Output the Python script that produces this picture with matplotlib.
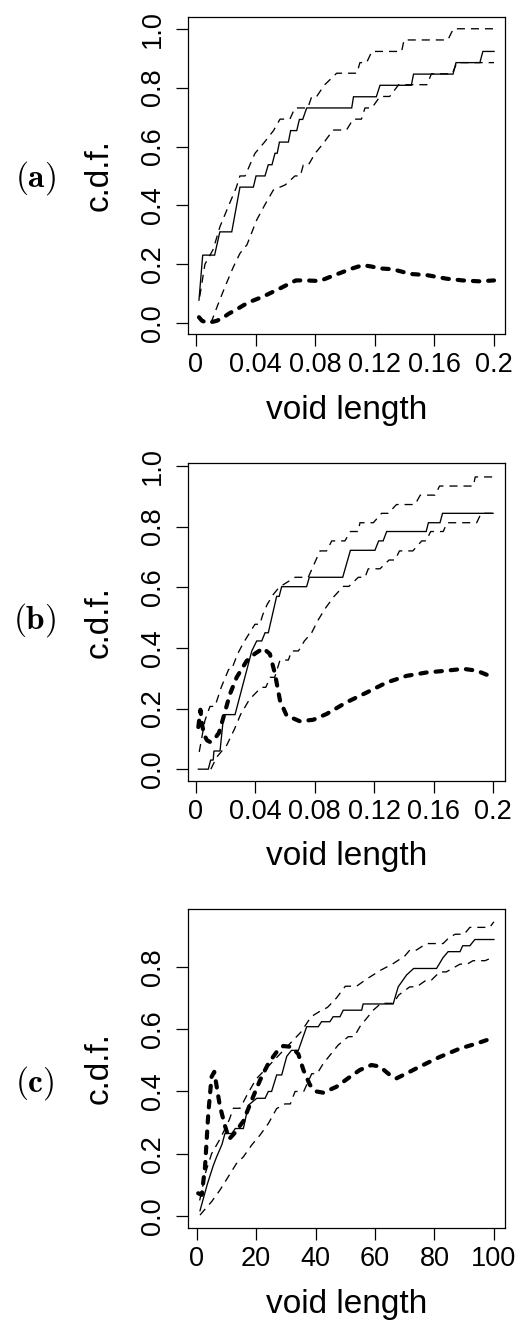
import matplotlib
matplotlib.use('Agg')
import matplotlib.pyplot as plt

plt.rcParams['font.family'] = ['Liberation Sans', 'DejaVu Sans']
plt.rcParams['mathtext.fontset'] = 'cm'
plt.rcParams['lines.scale_dashes'] = False

# ---------------- data ----------------
# panel (a)
a_obs_x = [0.002, 0.0045, 0.0125, 0.016, 0.024, 0.0295, 0.0385, 0.0403, 0.0463, 0.0485, 0.051, 0.053, 0.0545,
           0.056, 0.062, 0.0635, 0.0676, 0.0694, 0.0716, 0.0743, 0.1045, 0.1057, 0.121, 0.1235, 0.1445, 0.146,
           0.1725, 0.1745, 0.1905, 0.1925, 0.2]
a_obs_y = [0.078, 0.231, 0.231, 0.31, 0.31, 0.462, 0.462, 0.5, 0.5, 0.538, 0.538, 0.577, 0.577, 0.615, 0.615,
           0.654, 0.654, 0.692, 0.692, 0.731, 0.731, 0.769, 0.769, 0.808, 0.808, 0.846, 0.846, 0.885, 0.885,
           0.923, 0.923]
a_hi_x = [0.0025, 0.006, 0.0115, 0.0161, 0.022, 0.027, 0.0295, 0.0329, 0.0396, 0.046, 0.052, 0.0564, 0.063,
          0.0664, 0.075, 0.0777, 0.081, 0.086, 0.0944, 0.108, 0.110, 0.1145, 0.118, 0.138, 0.1396, 0.169,
          0.1727, 0.2]
a_hi_y = [0.09, 0.2, 0.25, 0.328, 0.40, 0.46, 0.5, 0.5, 0.577, 0.615, 0.654, 0.693, 0.693, 0.731, 0.731,
          0.77, 0.77, 0.808, 0.849, 0.849, 0.885, 0.885, 0.923, 0.923, 0.962, 0.962, 1.0, 1.0]
a_lo_x = [0.010, 0.0145, 0.0195, 0.025, 0.0295, 0.0342, 0.0407, 0.046, 0.0519, 0.060, 0.0664, 0.070, 0.072,
          0.0754, 0.080, 0.0855, 0.092, 0.101, 0.1055, 0.111, 0.1134, 0.118, 0.1235, 0.130, 0.136, 0.155,
          0.158, 0.172, 0.175, 0.2]
a_lo_y = [0.0, 0.06, 0.124, 0.19, 0.237, 0.266, 0.35, 0.40, 0.452, 0.47, 0.5, 0.5, 0.537, 0.537, 0.577,
          0.611, 0.656, 0.656, 0.693, 0.693, 0.731, 0.731, 0.77, 0.77, 0.81, 0.81, 0.847, 0.847, 0.885, 0.885]
a_ker_x = [0.002, 0.004, 0.007, 0.010, 0.014, 0.018, 0.022, 0.0284, 0.035, 0.045, 0.056, 0.067, 0.074, 0.083,
           0.094, 0.105, 0.112, 0.118, 0.123, 0.132, 0.144, 0.155, 0.168, 0.179, 0.19, 0.2]
a_ker_y = [0.02, 0.008, 0.002, 0.003, 0.008, 0.018, 0.032, 0.05, 0.07, 0.09, 0.117, 0.145, 0.145, 0.143,
           0.165, 0.186, 0.197, 0.192, 0.186, 0.183, 0.167, 0.163, 0.151, 0.145, 0.142, 0.145]

# panel (b)
b_obs_x = [0.0016, 0.0083, 0.0099, 0.0116, 0.0121, 0.0162, 0.0184, 0.0195, 0.0263, 0.0364, 0.0376, 0.0409,
           0.0443, 0.0465, 0.0487, 0.0543, 0.056, 0.0577, 0.0745, 0.0763, 0.0988, 0.104, 0.1205, 0.123, 0.126,
           0.1284, 0.155, 0.1565, 0.1643, 0.166, 0.2]
b_obs_y = [0.0, 0.0, 0.03, 0.03, 0.06, 0.06, 0.166, 0.18, 0.18, 0.368, 0.39, 0.423, 0.423, 0.45, 0.45, 0.57,
           0.57, 0.602, 0.602, 0.633, 0.633, 0.722, 0.722, 0.753, 0.753, 0.784, 0.784, 0.813, 0.813, 0.844, 0.844]
b_hi_x = [0.0022, 0.006, 0.0094, 0.0128, 0.017, 0.022, 0.024, 0.028, 0.032, 0.0397, 0.043, 0.045, 0.048,
          0.052, 0.056, 0.0667, 0.0756, 0.0835, 0.088, 0.0914, 0.1003, 0.104, 0.1093, 0.1104, 0.1194, 0.125,
          0.1295, 0.135, 0.1475, 0.151, 0.161, 0.164, 0.1868, 0.188, 0.2]
b_hi_y = [0.057, 0.16, 0.207, 0.207, 0.27, 0.329, 0.329, 0.38, 0.417, 0.478, 0.478, 0.51, 0.544, 0.576, 0.6,
          0.633, 0.633, 0.72, 0.72, 0.753, 0.753, 0.784, 0.784, 0.813, 0.813, 0.844, 0.844, 0.873, 0.873,
          0.904, 0.904, 0.934, 0.934, 0.964, 0.964]
b_lo_x = [0.010, 0.014, 0.0207, 0.026, 0.03, 0.036, 0.044, 0.047, 0.050, 0.053, 0.0566, 0.0622, 0.0644, 0.069,
          0.073, 0.0779, 0.082, 0.087, 0.093, 0.0992, 0.103, 0.1093, 0.1138, 0.116, 0.1239, 0.130, 0.134,
          0.137, 0.146, 0.152, 0.155, 0.158, 0.1665, 0.169, 0.189, 0.192, 0.2]
b_lo_y = [0.0, 0.04, 0.079, 0.133, 0.18, 0.23, 0.27, 0.27, 0.303, 0.303, 0.36, 0.36, 0.39, 0.39, 0.423, 0.45,
          0.49, 0.53, 0.57, 0.603, 0.603, 0.633, 0.633, 0.661, 0.661, 0.69, 0.69, 0.72, 0.72, 0.753, 0.753,
          0.784, 0.784, 0.813, 0.813, 0.844, 0.844]
b_ker_x = [0.0016, 0.003, 0.004, 0.0055, 0.0075, 0.0094, 0.0125, 0.0155, 0.019, 0.0229, 0.0274, 0.0341,
           0.0397, 0.0453, 0.0498, 0.0532, 0.0566, 0.061, 0.07, 0.079, 0.0879, 0.1015, 0.115, 0.1284, 0.142,
           0.1553, 0.1688, 0.18, 0.189, 0.2]
b_ker_y = [0.139, 0.196, 0.15, 0.113, 0.095, 0.09, 0.1, 0.12, 0.18, 0.248, 0.303, 0.357, 0.381, 0.399, 0.38,
           0.314, 0.226, 0.177, 0.158, 0.163, 0.182, 0.221, 0.253, 0.286, 0.308, 0.319, 0.325, 0.331, 0.325,
           0.303]

# panel (c)
c_obs_x = [1.1, 3.5, 5.5, 6.7, 8.5, 9.5, 11.8, 13, 14, 15.7, 17.4, 20.2, 23, 24.1, 25.2, 26.9, 28.6, 30.3,
           31.9, 33.1, 34.2, 37, 40.9, 42, 44.8, 45.9, 48.2, 49.3, 55.5, 56, 66.1, 67.8, 70.6, 73, 75.1, 80.7,
           82.9, 84.6, 88.6, 89.5, 91.9, 93.6, 100]
c_obs_y = [0.017, 0.1, 0.16, 0.19, 0.23, 0.265, 0.265, 0.281, 0.281, 0.281, 0.356, 0.378, 0.378, 0.4, 0.4,
           0.453, 0.453, 0.513, 0.532, 0.532, 0.532, 0.608, 0.608, 0.624, 0.624, 0.64, 0.64, 0.661, 0.661,
           0.681, 0.681, 0.736, 0.774, 0.795, 0.795, 0.795, 0.83, 0.849, 0.849, 0.868, 0.868, 0.888, 0.888]
c_hi_x = [1, 3, 5, 8, 11, 12.3, 14.6, 17, 20, 23, 26, 29, 32, 35, 38.5, 41, 44, 47, 50, 53.8, 57, 62, 66, 70,
          71.7, 73.9, 77.3, 82.9, 85, 87, 90, 91.9, 98.6, 100]
c_hi_y = [0.05, 0.14, 0.2, 0.25, 0.31, 0.346, 0.346, 0.39, 0.44, 0.47, 0.5, 0.53, 0.56, 0.59, 0.64, 0.655,
          0.67, 0.7, 0.738, 0.738, 0.76, 0.79, 0.81, 0.835, 0.854, 0.854, 0.875, 0.875, 0.895, 0.905, 0.905,
          0.927, 0.927, 0.945]
c_lo_x = [1.1, 5, 7.8, 10.6, 13.4, 15.7, 18.5, 21.3, 24.1, 26.9, 29.7, 31.5, 33.1, 36, 38.7, 40.5, 42.6, 47.6,
          51, 53, 54.9, 59.4, 62, 66.1, 68, 71.7, 74, 77.3, 79, 81.8, 84, 88.6, 91, 93, 97, 100]
c_lo_y = [0.003, 0.046, 0.083, 0.126, 0.169, 0.19, 0.228, 0.26, 0.297, 0.345, 0.36, 0.36, 0.4, 0.4, 0.457,
          0.457, 0.49, 0.549, 0.576, 0.576, 0.608, 0.661, 0.683, 0.683, 0.71, 0.736, 0.736, 0.758, 0.758,
          0.784, 0.784, 0.809, 0.809, 0.82, 0.82, 0.832]
c_ker_x = [0.5, 1.7, 2.8, 3.9, 5.0, 5.9, 6.7, 7.8, 9.5, 10.9, 12.9, 15.7, 18.5, 21.3, 24.1, 26.9, 29.1, 31.9,
           34.2, 35.9, 38.1, 40.3, 42.6, 47, 51.6, 54.9, 58.8, 61.6, 65, 67.2, 70.6, 75.1, 81.8, 88.6, 94.2, 100]
c_ker_y = [0.073, 0.068, 0.158, 0.33, 0.447, 0.463, 0.417, 0.353, 0.29, 0.247, 0.268, 0.305, 0.372, 0.436,
           0.49, 0.527, 0.546, 0.543, 0.52, 0.469, 0.421, 0.4, 0.396, 0.415, 0.447, 0.469, 0.485, 0.48, 0.453,
           0.442, 0.458, 0.48, 0.511, 0.538, 0.554, 0.573]

panel_labels = ['(a)', '(b)', '(c)']
x_ticks_ab = [0, 0.04, 0.08, 0.12, 0.16, 0.2]
x_ticklabels_ab = ['0', '0.04', '0.08', '0.12', '0.16', '0.2']
y_ticks_ab = [0.0, 0.2, 0.4, 0.6, 0.8, 1.0]
x_ticks_c = [0, 20, 40, 60, 80, 100]
x_ticklabels_c = ['0', '20', '40', '60', '80', '100']
y_ticks_c = [0.0, 0.2, 0.4, 0.6, 0.8]
x_label = 'void length'
y_label = 'c.d.f.'

# ---------------- layout ----------------
W, H = 517, 1327
fig = plt.figure(figsize=(W / 100, H / 100), dpi=100)


def rect(l, t, r, b):
    return [l / W, 1 - b / H, (r - l) / W, (b - t) / H]


panels = [
    dict(box=(187.5, 17, 505.5, 334), xlim=(-0.0057, 0.2077), ylim=(-0.037, 1.04),
         xt=x_ticks_ab, xtl=x_ticklabels_ab, yt=y_ticks_ab,
         obs=(a_obs_x, a_obs_y), hi=(a_hi_x, a_hi_y), lo=(a_lo_x, a_lo_y), ker=(a_ker_x, a_ker_y),
         lab_y=178),
    dict(box=(187.5, 463, 505.5, 781), xlim=(-0.0057, 0.2084), ylim=(-0.039, 1.01),
         xt=x_ticks_ab, xtl=x_ticklabels_ab, yt=y_ticks_ab,
         obs=(b_obs_x, b_obs_y), hi=(b_hi_x, b_hi_y), lo=(b_lo_x, b_lo_y), ker=(b_ker_x, b_ker_y),
         lab_y=620),
    dict(box=(187.5, 909, 505.5, 1228), xlim=(-3.1, 103.9), ylim=(-0.0385, 0.986),
         xt=x_ticks_c, xtl=x_ticklabels_c, yt=y_ticks_c,
         obs=(c_obs_x, c_obs_y), hi=(c_hi_x, c_hi_y), lo=(c_lo_x, c_lo_y), ker=(c_ker_x, c_ker_y),
         lab_y=1083),
]

thin = 0.95
thick = 3.0
thin_dash = (0, (5.8, 4.3))
thick_dash = (0, (4.6, 6.4))

for p, plab in zip(panels, panel_labels):
    l, t, r, b = p['box']
    ax = fig.add_axes(rect(l, t, r, b))
    ax.plot(*p['obs'], color='black', lw=thin, solid_joinstyle='miter')
    ax.plot(*p['hi'], color='black', lw=thin, linestyle=thin_dash)
    ax.plot(*p['lo'], color='black', lw=thin, linestyle=thin_dash)
    ax.plot(*p['ker'], color='black', lw=thick, linestyle=thick_dash,
            dash_capstyle='round', dash_joinstyle='round')
    ax.set_xlim(*p['xlim'])
    ax.set_ylim(*p['ylim'])
    ax.set_xticks(p['xt'])
    ax.set_xticklabels(p['xtl'])
    ax.set_yticks(p['yt'])
    ax.set_yticklabels(['%.1f' % v for v in p['yt']], rotation=90, va='center')
    ax.tick_params(axis='both', direction='out', length=8.3, width=0.9, labelsize=19.5, color='black')
    ax.tick_params(axis='x', pad=5)
    ax.tick_params(axis='y', pad=7)
    for s in ax.spines.values():
        s.set_linewidth(0.9)
    cx = (l + r) / 2
    cy = (t + b) / 2
    fig.text(cx / W, 1 - (b + 76) / H, x_label, ha='center', va='center', fontsize=24)
    fig.text(99 / W, 1 - cy / H, y_label, ha='center', va='center', rotation=90, fontsize=24)
    fig.text(35 / W, 1 - p['lab_y'] / H, r'$\mathbf{%s}$' % plab, ha='center', va='center', fontsize=24)

fig.savefig('out.png', dpi=100)
